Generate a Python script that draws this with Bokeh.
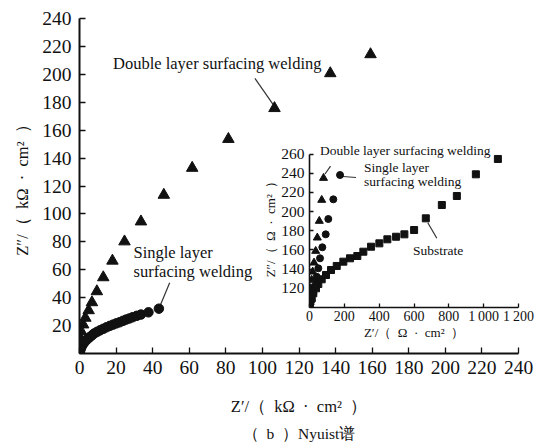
from bokeh.plotting import figure
from bokeh.models import FixedTicker, Label, Range1d, Title
from bokeh.layouts import column
from bokeh.embed import file_html
from bokeh.resources import INLINE

# ---------------- main chart data (kOhm*cm2) ----------------
double_x = [0.0, 0.1, 0.1, 0.2, 0.9, 2.0, 3.2, 5.0, 6.8, 9.5, 13.0, 18.0,
            24.6, 33.6, 46.1, 61.6, 81.4, 106.6, 137.1, 159.1]
double_y = [2.0, 5.0, 8.5, 11.9, 15.9, 20.7, 25.5, 30.9, 36.6, 44.5, 54.5, 66.4,
            80.2, 94.5, 113.6, 132.9, 153.6, 175.7, 200.7, 214.3]

single_x = [0.2, 0.3, 0.6, 1.0, 1.6, 2.3, 3.2, 4.3, 5.5, 6.8, 8.0, 9.6, 11.2,
            13.0, 14.8, 16.6, 18.4, 20.2, 22.0, 23.8, 25.5, 27.3, 29.1, 31.3,
            33.6, 37.7, 43.4]
single_y = [0.5, 1.8, 3.2, 4.6, 6.0, 7.4, 8.8, 10.2, 11.6, 13.0, 14.3, 15.5, 16.6,
            17.7, 18.8, 19.8, 20.7, 21.6, 22.4, 23.4, 24.3, 25.1, 26.0, 27.0,
            27.9, 29.5, 32.1]

main_xticks = [0, 20, 40, 60, 80, 100, 120, 140, 160, 180, 200, 220, 240]
main_yticks = [20, 40, 60, 80, 100, 120, 140, 160, 180, 200, 220, 240]

SP = "\u2002"
main_xlabel = "Z′/（" + SP + "kΩ" + SP + "·" + SP + "cm²" + SP + "）"
main_ylabel = "Z″/（" + SP + "kΩ" + SP + "·" + SP + "cm²" + SP + "）"
caption = "（" + SP + "b" + SP + "）Nyuist谱"

# main annotations (data coordinates)
main_text = ["Double layer surfacing welding", "Single layer", "surfacing welding"]
main_text_x = [75.3, 29.5, 29.5]
main_text_y = [207.9, 72.1, 58.6]
main_text_align = ["center", "left", "left"]
main_lead_x0 = [95.9, 49.3]
main_lead_y0 = [197.1, 50.7]
main_lead_x1 = [106.1, 43.9]
main_lead_y1 = [177.9, 33.6]

# ---------------- inset data (Ohm*cm2) ----------------
sub_x = [2.9, 12.6, 21.8, 37.4, 50.6, 70.1, 94.8, 123.6, 156.3, 194.3, 232.8,
         274.7, 309.2, 353.4, 401.1, 447.1, 497.1, 544.8, 600.6, 667.8, 759.8,
         846.0, 955.2, 1081.6]
sub_y = [104.4, 109.6, 114.8, 120.0, 124.5, 129.4, 133.9, 139.1, 143.3, 147.8,
         151.3, 153.7, 158.2, 163.4, 166.9, 171.1, 173.8, 176.3, 180.8, 193.0,
         206.9, 216.3, 238.9, 254.9]

in_single_x = [5.7, 12.6, 21.8, 31.6, 41.4, 50.6, 60.3, 73.6, 93.1, 108.0, 136.8]
in_single_y = [103.6, 107.8, 114.8, 122.7, 132.1, 140.9, 151.3, 162.8, 176.3, 192.3, 212.8]

in_double_x = [2.9, 4.0, 6.9, 12.6, 18.4, 25.9, 35.6, 44.8, 56.3, 70.1]
in_double_y = [105.7, 112.0, 120.0, 128.7, 137.3, 146.7, 158.9, 172.8, 190.2, 212.1]

inset_xticks = [0, 200, 400, 600, 800, 1000, 1200]
inset_xtick_labels = ["0", "200", "400", "600", "800", "1\u2009000", "1\u2009200"]
inset_yticks = [120, 140, 160, 180, 200, 220, 240, 260]

inset_xlabel = "Z′/（" + SP + "Ω" + SP + "·" + SP + "cm²" + SP + "）"
inset_ylabel = "Z″/（" + SP + "Ω" + SP + "·" + SP + "cm²" + SP + "）"

# inset key markers and annotations (data coordinates)
key_tri_x = [80.5]
key_tri_y = [235.0]
key_dot_x = [175.3]
key_dot_y = [238.2]
inset_text = ["Double layer surfacing welding", "Single layer", "surfacing welding", "Substrate"]
inset_text_x = [60.3, 313.2, 313.2, 594.8]
inset_text_y = [264.2, 245.5, 231.2, 159.2]
inset_lead_x0 = [120.7, 192.5, 679.3]
inset_lead_y0 = [247.5, 236.6, 188.4]
inset_lead_x1 = [89.1, 267.2, 731.0]
inset_lead_y1 = [239.2, 235.6, 172.2]

# ---------------- styling ----------------
SERIF = "Liberation Serif"
INK = "#111111"
LEAD = "#333333"


def style_axis(ax, label_size, title_size, line_w, tick_len):
    ax.axis_line_color = INK
    ax.axis_line_width = line_w
    ax.major_tick_line_color = INK
    ax.major_tick_line_width = 1.3
    ax.major_tick_in = tick_len
    ax.major_tick_out = 0
    ax.minor_tick_line_color = None
    ax.major_label_text_font = SERIF
    ax.major_label_text_font_size = label_size
    ax.major_label_text_color = INK
    ax.axis_label_text_font = SERIF
    ax.axis_label_text_font_size = title_size
    ax.axis_label_text_font_style = "normal"
    ax.axis_label_text_color = INK


# ---------------- main figure ----------------
p = figure(width=540, height=446, x_range=Range1d(0, 240), y_range=Range1d(0, 240),
           output_backend="svg", toolbar_location=None,
           min_border_left=79, min_border_right=13, min_border_top=18,
           min_border_bottom=92)
p.outline_line_color = None
p.xgrid.visible = False
p.ygrid.visible = False
p.background_fill_color = "white"
p.border_fill_color = "white"

p.xaxis.ticker = FixedTicker(ticks=main_xticks)
p.yaxis.ticker = FixedTicker(ticks=main_yticks)
style_axis(p.xaxis[0], "19.5px", "16.5px", 2, 6)
style_axis(p.yaxis[0], "19.5px", "16.5px", 2, 6)
p.xaxis.axis_label = main_xlabel
p.yaxis.axis_label = main_ylabel
p.xaxis.major_label_standoff = 7
p.yaxis.major_label_standoff = 8
p.xaxis.axis_label_standoff = 20
p.yaxis.axis_label_standoff = 7

p.segment(main_lead_x0, main_lead_y0, main_lead_x1, main_lead_y1,
          line_color=LEAD, line_width=1.2)
p.scatter(single_x, single_y, marker="circle", size=9.5, fill_color=INK, line_color=INK)
p.scatter(double_x, double_y, marker="triangle", size=11.5, fill_color=INK, line_color=INK)

for t, x, y, a in zip(main_text, main_text_x, main_text_y, main_text_align):
    p.add_layout(Label(x=x, y=y, text=t, text_align=a, text_baseline="middle",
                       text_font=SERIF, text_font_size="16.5px", text_color=INK))

cap = Title(text=caption, align="center", text_font=SERIF, text_font_size="15.5px",
            text_font_style="normal", text_color=INK, standoff=9)
p.add_layout(cap, "below")

# ---------------- inset figure ----------------
inset = figure(width=310, height=220, x_range=Range1d(0, 1200), y_range=Range1d(100, 270),
               output_backend="svg", toolbar_location=None,
               min_border_left=44, min_border_right=22, min_border_top=14,
               min_border_bottom=43)
inset.outline_line_color = None
inset.xgrid.visible = False
inset.ygrid.visible = False
inset.background_fill_color = None
inset.border_fill_color = None

inset.xaxis.ticker = FixedTicker(ticks=inset_xticks)
inset.xaxis.major_label_overrides = {t: s for t, s in zip(inset_xticks, inset_xtick_labels)}
inset.yaxis.ticker = FixedTicker(ticks=inset_yticks)
inset.yaxis.bounds = (100, 260)
style_axis(inset.xaxis[0], "14px", "13px", 1.6, 4)
style_axis(inset.yaxis[0], "15.5px", "13px", 1.6, 4)
inset.xaxis.axis_label = inset_xlabel
inset.yaxis.axis_label = inset_ylabel
inset.xaxis.major_label_standoff = 1
inset.yaxis.major_label_standoff = 5
inset.xaxis.axis_label_standoff = -2
inset.yaxis.axis_label_standoff = 0

inset.segment(inset_lead_x0, inset_lead_y0, inset_lead_x1, inset_lead_y1,
              line_color=LEAD, line_width=1.2)
inset.scatter(sub_x, sub_y, marker="square", size=7, fill_color=INK, line_color=INK)
inset.scatter(in_single_x, in_single_y, marker="circle", size=7, fill_color=INK, line_color=INK)
inset.scatter(in_double_x, in_double_y, marker="triangle", size=8, fill_color=INK, line_color=INK)
inset.scatter(key_tri_x, key_tri_y, marker="triangle", size=8, fill_color=INK, line_color=INK)
inset.scatter(key_dot_x, key_dot_y, marker="circle", size=7, fill_color=INK, line_color=INK)

for t, x, y in zip(inset_text, inset_text_x, inset_text_y):
    inset.add_layout(Label(x=x, y=y, text=t, text_align="left", text_baseline="middle",
                           text_font=SERIF, text_font_size="13.5px", text_color=INK))

inset.styles = {"position": "absolute", "left": "230px", "top": "130px"}

layout = column(p, inset)
layout.styles = {"position": "relative"}

open("out.html", "w").write(file_html(layout, INLINE))
